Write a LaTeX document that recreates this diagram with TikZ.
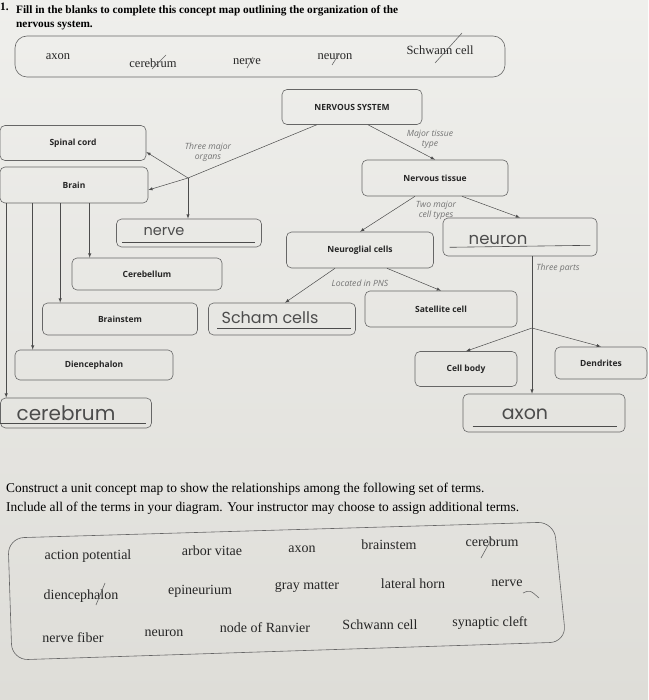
\documentclass[tikz,border=0pt]{standalone}
\usepackage{fontspec}
\setmainfont{Liberation Serif}
\newfontfamily\mapfont{Open Sans}
\newfontfamily\handfont{Poppins}
\usetikzlibrary{arrows,backgrounds}
\usetikzlibrary{positioning}
\tikzset{>=latex}
\definecolor{papertop}{RGB}{239,239,236}
\definecolor{paperbot}{RGB}{222,221,216}
\tikzset{
  qtext/.style={font=\bfseries\fontsize{11.3}{13}\selectfont,inner sep=0pt},
  btext/.style={font=\fontsize{13.4}{15}\selectfont,inner sep=0pt},
  bankword/.style={font=\fontsize{12.5}{14}\selectfont,text=black!85},
  bigword/.style={font=\fontsize{14}{16}\selectfont,text=black!85},
  bankframe/.style={draw=black!60,line width=0.6pt,rounded corners=12pt},
  concept/.style={rectangle,draw=black!60,line width=0.6pt,rounded corners=5pt,font=\mapfont\bfseries\fontsize{8.5}{10}\selectfont,text=black!85},
  blankbox/.style={rectangle,draw=black!60,line width=0.6pt,rounded corners=5pt},
  answer/.style={font=\handfont,text=black!70,inner sep=0pt},
  linktag/.style={font=\mapfont\itshape\fontsize{8.6}{10}\selectfont,text=black!55,align=center},
  link/.style={draw=black!70,line width=0.5pt},
  pencilmark/.style={draw=black!60,line width=0.6pt},
  blankline/.style={draw=black!70,line width=0.6pt},
}
\begin{document}
\begin{tikzpicture}[x=1pt,y=-1pt]
    \shade [top color=papertop,bottom color=paperbot] (0,0) rectangle (648,700);
    \useasboundingbox (0,0) rectangle (648,700);
    % question 1
    \node at (0,7) [anchor=west,qtext] (qnum) {1.};
    \node at (16,11) [anchor=west,qtext] (qline1) {Fill in the blanks to complete this concept map outlining the organization of the};
    \node at (16,26) [anchor=west,qtext] (qline2) {nervous system.};
    % terms to use
    \draw [bankframe] (15,36) rectangle (505,77);
    \node at (58,57) [bankword] (w_axon) {axon};
    \node at (153,63) [bankword] (w_cerebrum) {cerebrum};
    \node at (247,62) [bankword] (w_nerve) {nerve};
    \node at (335,57) [bankword] (w_neuron) {neuron};
    \node at (440,50) [bankword] (w_schwann) {Schwann cell};
    \draw [pencilmark] (152,69) -- (166,55);
    \draw [pencilmark] (247,68) -- (253,57);
    \draw [pencilmark] (332,65) -- (339,54);
    \draw [pencilmark] (435,63) -- (462,33);
    % concept map
    \node at (352,107) [concept,minimum width=140pt,minimum height=35pt] (nsys) {NERVOUS SYSTEM};
    \node at (73,143) [concept,minimum width=146pt,minimum height=35pt] (spinal) {Spinal cord};
    \node at (74,185) [concept,minimum width=148pt,minimum height=36pt] (brain) {Brain};
    \node at (189,233) [blankbox,minimum width=145pt,minimum height=28pt] (nerveblank) {};
    \node at (147,274) [concept,minimum width=150pt,minimum height=32pt] (cerebellum) {Cerebellum};
    \node at (120,319) [concept,minimum width=155pt,minimum height=32pt] (brainstem) {Brainstem};
    \node at (282,319) [blankbox,minimum width=147pt,minimum height=32pt] (schwannblank) {};
    \node at (94,365) [concept,minimum width=158pt,minimum height=30pt] (dienceph) {Diencephalon};
    \node at (76,413) [blankbox,minimum width=151pt,minimum height=30pt] (cerebrumblank) {};
    \node at (435,178) [concept,minimum width=146pt,minimum height=36pt] (tissue) {Nervous tissue};
    \node at (360,250) [concept,minimum width=147pt,minimum height=36pt] (neuroglia) {Neuroglial cells};
    \node at (520,237) [blankbox,minimum width=154pt,minimum height=38pt] (neuronblank) {};
    \node at (441,309) [concept,minimum width=152pt,minimum height=36pt] (satellite) {Satellite cell};
    \node at (466,369) [concept,minimum width=102pt,minimum height=35pt] (cellbody) {Cell body};
    \node at (601,363) [concept,minimum width=92pt,minimum height=32pt] (dendrites) {Dendrites};
    \node at (544,413) [blankbox,minimum width=162pt,minimum height=38pt] (axonblank) {};
    % handwritten answers
    \node at (164,232) [answer] (a_nerve) {\fontsize{14.5}{15}\selectfont nerve};
    \node at (270,318) [answer] (a_schwann) {\fontsize{16}{17}\selectfont Scham cells};
    \node at (66,413) [answer] (a_cerebrum) {\fontsize{20}{21}\selectfont cerebrum};
    \node at (498,240) [answer] (a_neuron) {\fontsize{16.5}{17}\selectfont neuron};
    \node at (525,414) [answer] (a_axon) {\fontsize{19}{20}\selectfont axon};
    \draw [blankline] ([xshift=6pt,yshift=5pt]nerveblank.south west) -- ([xshift=-7pt,yshift=5pt]nerveblank.south east);
    \draw [blankline] ([xshift=9pt,yshift=7pt]schwannblank.south west) -- ([xshift=-5pt,yshift=7pt]schwannblank.south east);
    \draw [blankline] ([xshift=0pt,yshift=5pt]cerebrumblank.south west) -- ([xshift=-6pt,yshift=5pt]cerebrumblank.south east);
    \draw [blankline] ([xshift=7pt,yshift=9pt]neuronblank.south west) -- ([xshift=-7pt,yshift=11pt]neuronblank.south east);
    \draw [blankline] ([xshift=10pt,yshift=6pt]axonblank.south west) -- ([xshift=-8pt,yshift=6pt]axonblank.south east);
    % link labels
    \node at (208,152) [linktag] (t_organs) {Three major\\organs};
    \node at (430,139) [linktag] (t_tissue) {Major tissue\\type};
    \node at (436,210) [linktag] (t_cells) {Two major\\cell types};
    \node at (360,283) [linktag] (t_pns) {Located in PNS};
    \node at (558,268) [linktag] (t_parts) {Three parts};
    % connectors
    \coordinate (organs) at (188,178);
    \coordinate (parts) at (532,328);
    \draw [link] ([xshift=35pt]nsys.south west) -- (organs);
    \draw [link,->] (organs) -- ([yshift=-9pt]spinal.east);
    \draw [link,->] (organs) -- ([yshift=-5pt]brain.east);
    \draw [link,->] (organs) -- (nerveblank.north -| organs);
    \draw [link,->] ([xshift=18pt]cerebellum.north west |- brain.south) -- ([xshift=18pt]cerebellum.north west);
    \draw [link,->] ([xshift=18pt]brainstem.north west |- brain.south) -- ([xshift=18pt]brainstem.north west);
    \draw [link,->] ([xshift=18pt]dienceph.north west |- brain.south) -- ([xshift=18pt]dienceph.north west);
    \draw [link,->] ([xshift=6pt]cerebrumblank.north west |- brain.south) -- ([xshift=6pt]cerebrumblank.north west);
    \draw [link,->] ([xshift=16pt]nsys.south) -- (tissue.north);
    \draw [link,->] ([xshift=-20pt]tissue.south) -- (neuroglia.north);
    \draw [link,->] ([xshift=27pt]tissue.south) -- (neuronblank.north);
    \draw [link,->] ([xshift=-25pt]neuroglia.south) -- ([xshift=3pt]schwannblank.north);
    \draw [link,->] ([xshift=27pt]neuroglia.south) -- (satellite.north);
    \draw [link,->] ([xshift=12pt]neuronblank.south) -- ([xshift=-12pt]axonblank.north);
    \draw [link,->] (parts) -- (cellbody.north);
    \draw [link,->] (parts) -- (dendrites.north);
    % question 2
    \node at (6,489) [anchor=west,btext] (q2line1) {Construct a unit concept map to show the relationships among the following set of terms.};
    \node at (6,508) [anchor=west,btext] (q2line2) {Include all of the terms in your diagram. Your instructor may choose to assign additional terms.};
    \draw [bankframe,rounded corners=16pt] (8,538) -- (554,522) -- (566,642) -- (12,660) -- cycle;
    \node at (88,556) [bigword] (u_actpot) {action potential};
    \node at (212,551) [bigword] (u_arbor) {arbor vitae};
    \node at (302,549) [bigword] (u_axon) {axon};
    \node at (389,545) [bigword] (u_brainstem) {brainstem};
    \node at (492,542) [bigword] (u_cerebrum) {cerebrum};
    \node at (81,596) [bigword] (u_dienceph) {diencephalon};
    \node at (200,591) [bigword] (u_epineur) {epineurium};
    \node at (307,587) [bigword] (u_gray) {gray matter};
    \node at (413,584) [bigword] (u_lateral) {lateral horn};
    \node at (507,583) [bigword] (u_nerve) {nerve};
    \node at (73,638) [bigword] (u_fiber) {nerve fiber};
    \node at (164,633) [bigword] (u_neuron) {neuron};
    \node at (265,628) [bigword] (u_ranvier) {node of Ranvier};
    \node at (380,625) [bigword] (u_schwann) {Schwann cell};
    \node at (490,623) [bigword] (u_cleft) {synaptic cleft};
    \draw [pencilmark] (481,558) -- (492,538);
    \draw [pencilmark] (96,605) -- (105,583);
    \draw [pencilmark] (523,593) .. controls (530,590) .. (539,598);
\end{tikzpicture}
\end{document}
